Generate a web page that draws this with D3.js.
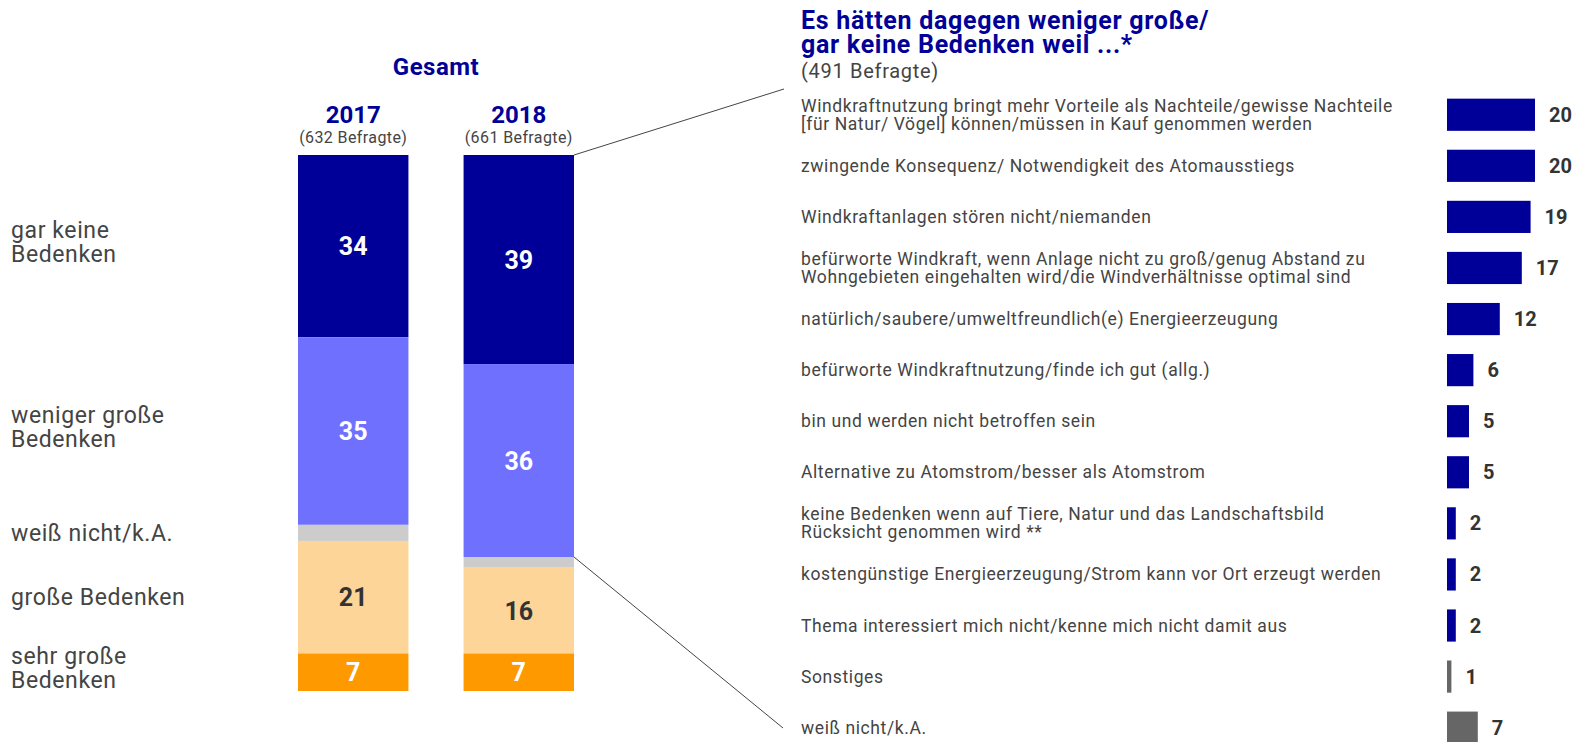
<!DOCTYPE html>
<html lang="de">
<head>
    <meta charset="UTF-8">
    <title>Bedenken Windkraft</title>
    <script src="https://d3js.org/d3.v7.min.js"></script>
    <style>
        body {
            margin: 0;
            background: #fff;
            font-family: Roboto, Arial, sans-serif;
        }
    </style>
</head>
<body>
    <div id="chart"></div>

    <script>
        // Gesamt – gestapelte Säulen
        const stackCats = ["gar keine\nBedenken", "weniger große\nBedenken", "weiß nicht/k.A.", "große Bedenken", "sehr große\nBedenken"];
        const stackColors = ["#000099", "#7070ff", "#cccccc", "#fed599", "#ff9900"];
        const stackTextColors = ["#fff", "#fff", null, "#333", "#fff"];
        const years = ["2017", "2018"];
        const respondents = ["(632 Befragte)", "(661 Befragte)"];
        const values2017 = [34, 35, 3, 21, 7];
        const values2018 = [39, 36, 2, 16, 7];

        // Gründe – horizontale Balken
        const reasons = [
            "Windkraftnutzung bringt mehr Vorteile als Nachteile/gewisse Nachteile\n[für Natur/ Vögel] können/müssen in Kauf genommen werden",
            "zwingende Konsequenz/ Notwendigkeit des Atomausstiegs",
            "Windkraftanlagen stören nicht/niemanden",
            "befürworte Windkraft, wenn Anlage nicht zu groß/genug Abstand zu\nWohngebieten eingehalten wird/die Windverhältnisse optimal sind",
            "natürlich/saubere/umweltfreundlich(e) Energieerzeugung",
            "befürworte Windkraftnutzung/finde ich gut (allg.)",
            "bin und werden nicht betroffen sein",
            "Alternative zu Atomstrom/besser als Atomstrom",
            "keine Bedenken wenn auf Tiere, Natur und das Landschaftsbild\nRücksicht genommen wird **",
            "kostengünstige Energieerzeugung/Strom kann vor Ort erzeugt werden",
            "Thema interessiert mich nicht/kenne mich nicht damit aus",
            "Sonstiges",
            "weiß nicht/k.A."
        ];
        const reasonValues = [20, 20, 19, 17, 12, 6, 5, 5, 2, 2, 2, 1, 7];
        const reasonGrey = [false, false, false, false, false, false, false, false, false, false, false, true, true];

        const width = 1577, height = 742;
        const blue = "#000099", textGrey = "#444";

        const svg = d3.select("#chart")
            .append("svg")
            .attr("width", width)
            .attr("height", height);

        // ---- linke Seite ----
        const x = d3.scaleBand().domain(years).range([298, 574]).paddingInner(0.333);
        const y = d3.scaleLinear().domain([0, 100]).range([155, 691]);

        const series = [values2017, values2018];
        years.forEach((yr, i) => {
            let cum = 0;
            const segs = series[i].map((v, j) => {
                const s = { y0: cum, y1: cum + v, v: v, j: j };
                cum += v;
                return s;
            });
            const g = svg.append("g");
            g.selectAll("rect")
                .data(segs)
                .enter()
                .append("rect")
                .attr("x", x(yr))
                .attr("width", x.bandwidth())
                .attr("y", d => y(d.y0))
                .attr("height", d => y(d.y1) - y(d.y0))
                .attr("fill", d => stackColors[d.j]);

            g.selectAll("text")
                .data(segs.filter(d => stackTextColors[d.j]))
                .enter()
                .append("text")
                .attr("x", x(yr) + x.bandwidth() / 2)
                .attr("y", d => (y(d.y0) + y(d.y1)) / 2 + 9)
                .attr("text-anchor", "middle")
                .attr("font-size", "25px")
                .attr("font-weight", "bold")
                .attr("fill", d => stackTextColors[d.j])
                .text(d => d.v);

            // Jahr und Befragte
            svg.append("text")
                .attr("x", x(yr) + x.bandwidth() / 2)
                .attr("y", 123)
                .attr("text-anchor", "middle")
                .attr("font-size", "24px")
                .attr("font-weight", "bold")
                .attr("fill", blue)
                .text(yr);
            svg.append("text")
                .attr("x", x(yr) + x.bandwidth() / 2)
                .attr("y", 143)
                .attr("text-anchor", "middle")
                .attr("font-size", "16px")
                .attr("letter-spacing", "0.4px")
                .attr("fill", textGrey)
                .text(respondents[i]);
        });

        svg.append("text")
            .attr("x", (x("2017") + x("2018") + x.bandwidth()) / 2)
            .attr("y", 75)
            .attr("text-anchor", "middle")
            .attr("font-size", "24px")
            .attr("letter-spacing", "0.5px")
            .attr("font-weight", "bold")
            .attr("fill", blue)
            .text("Gesamt");

        // Kategorie-Beschriftung links (an 2017 ausgerichtet)
        let cum17 = 0;
        stackCats.forEach((c, j) => {
            const mid = (y(cum17) + y(cum17 + values2017[j])) / 2;
            cum17 += values2017[j];
            const lines = c.split("\n");
            const t = svg.append("text")
                .attr("font-size", "23px")
                .attr("letter-spacing", "0.6px")
                .attr("fill", textGrey);
            lines.forEach((l, k) => {
                t.append("tspan")
                    .attr("x", 11)
                    .attr("y", mid + 8 + (k - (lines.length - 1) / 2) * 24 - (lines.length > 1 ? 4 : 0))
                    .text(l);
            });
        });

        // Verbindungslinien
        const xRight = x("2018") + x.bandwidth();
        svg.append("line")
            .attr("x1", xRight).attr("y1", y(0))
            .attr("x2", 784).attr("y2", 89)
            .attr("stroke", textGrey).attr("stroke-width", 1);
        svg.append("line")
            .attr("x1", xRight).attr("y1", y(values2018[0] + values2018[1]))
            .attr("x2", 783).attr("y2", 728)
            .attr("stroke", textGrey).attr("stroke-width", 1);

        // ---- rechte Seite ----
        const titleLines = ["Es hätten dagegen weniger große/", "gar keine Bedenken weil ...*"];
        const title = svg.append("text")
            .attr("font-size", "25px")
            .attr("letter-spacing", "0.7px")
            .attr("font-weight", "bold")
            .attr("fill", blue);
        titleLines.forEach((l, k) => {
            title.append("tspan").attr("x", 801).attr("y", 29 + k * 24).text(l);
        });
        svg.append("text")
            .attr("x", 801)
            .attr("y", 78)
            .attr("font-size", "20px")
            .attr("letter-spacing", "0.7px")
            .attr("fill", textGrey)
            .text("(491 Befragte)");

        const rows = d3.range(reasons.length);
        const yr2 = d3.scaleBand().domain(rows).range([89.2, 753.2]).paddingInner(0.37).paddingOuter(0.185);
        const xr = d3.scaleLinear().domain([0, 20]).range([1447, 1535]);

        const rg = svg.append("g");
        rg.selectAll("rect")
            .data(rows)
            .enter()
            .append("rect")
            .attr("x", xr(0))
            .attr("y", i => yr2(i))
            .attr("width", i => xr(reasonValues[i]) - xr(0))
            .attr("height", yr2.bandwidth())
            .attr("fill", i => reasonGrey[i] ? "#666666" : blue);

        rg.selectAll("text.val")
            .data(rows)
            .enter()
            .append("text")
            .attr("class", "val")
            .attr("x", i => xr(reasonValues[i]) + 14)
            .attr("y", i => yr2(i) + yr2.bandwidth() / 2 + 7)
            .attr("font-size", "20px")
            .attr("font-weight", "bold")
            .attr("fill", "#333")
            .text(i => reasonValues[i]);

        rows.forEach(i => {
            const mid = yr2(i) + yr2.bandwidth() / 2;
            const lines = reasons[i].split("\n");
            const t = rg.append("text")
                .attr("font-size", "17.5px")
                .attr("letter-spacing", "0.6px")
                .attr("fill", textGrey);
            lines.forEach((l, k) => {
                t.append("tspan")
                    .attr("x", 801)
                    .attr("y", mid + 6 + (k - (lines.length - 1) / 2) * 18)
                    .text(l);
            });
        });
    </script>
</body>
</html>
